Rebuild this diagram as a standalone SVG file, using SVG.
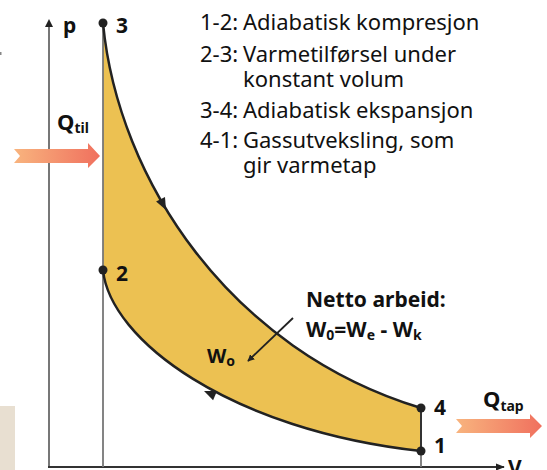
<svg xmlns="http://www.w3.org/2000/svg" width="547" height="470" viewBox="0 0 547 470">
<defs>
<linearGradient id="qgrad" x1="0" y1="0" x2="1" y2="0">
<stop offset="0" stop-color="#f8b47e"/>
<stop offset="1" stop-color="#f0705e"/>
</linearGradient>
<marker id="ah" viewBox="0 0 10 10" refX="9" refY="5" markerWidth="7" markerHeight="7" orient="auto" markerUnits="userSpaceOnUse">
<path d="M0,0 L10,5 L0,10 z" fill="#222"/>
</marker>
<marker id="axh" viewBox="0 0 10 10" refX="9" refY="5" markerWidth="9" markerHeight="9" orient="auto" markerUnits="userSpaceOnUse">
<path d="M0,1 L10,5 L0,9 z" fill="#222"/>
</marker>
</defs>
<style>
text{font-family:"Noto Sans","Open Sans","Liberation Sans",sans-serif;fill:#111}
.leg{font-size:22px}
.b{font-weight:bold}
.curve{fill:none;stroke:#222;stroke-width:2.5}
.pt{fill:#222}
.lbl{font-size:21px;font-weight:bold}
</style>
<rect x="0" y="406" width="15" height="64" fill="#e8dfd1"/>
<rect x="0" y="52" width="1.5" height="3" fill="#888"/>
<g id="area">
<path d="M103,23 C118,180 230,350 421,408 L421,451 C230,430 110,340 103,270 Z" fill="#ecc152"/>
</g>
<g id="axes">
<line x1="49" y1="467" x2="49" y2="26" stroke="#777" stroke-width="2"/>
<path d="M45,27 L49,19 L53,27 Z" fill="#222"/>
<line x1="48" y1="467" x2="504" y2="467" stroke="#333" stroke-width="1.8" marker-end="url(#axh)"/>
<line x1="103" y1="23" x2="103" y2="467" stroke="#777" stroke-width="1.8"/>
<line x1="421" y1="451" x2="421" y2="467" stroke="#777" stroke-width="1.8"/>
<text x="63" y="33" class="lbl">p</text>
<text x="508" y="475" class="lbl">V</text>
</g>
<g id="connectors">
<path id="c34" class="curve" d="M103,23 C118,180 230,350 421,408"/>
<path id="c12" class="curve" d="M421,451 C230,430 110,340 103,270"/>
<line id="c41" x1="421" y1="408" x2="421" y2="451" stroke="#333" stroke-width="2"/>
<polygon points="0,0 -12,-5 -12,5" fill="#222" transform="translate(166,210) rotate(63)"/>
<polygon points="0,0 -12,-5 -12,5" fill="#222" transform="translate(204,391) rotate(203)"/>
<line x1="293" y1="318" x2="248" y2="361" stroke="#222" stroke-width="1.8" marker-end="url(#ah)"/>
</g>
<g id="p3"><circle class="pt" cx="103" cy="23" r="4.5"/><text x="116" y="33" class="lbl">3</text></g>
<g id="p2"><circle class="pt" cx="103" cy="270" r="4.5"/><text x="116" y="281" class="lbl">2</text></g>
<g id="p4"><circle class="pt" cx="421" cy="408" r="4.5"/><text x="434" y="415" class="lbl">4</text></g>
<g id="p1"><circle class="pt" cx="421" cy="451" r="4.5"/><text x="434" y="453" class="lbl">1</text></g>
<g id="qtil">
<path d="M14,149 L88,149 L88,143 L100,156 L88,168 L88,163 L14,163 L20,156 Z" fill="url(#qgrad)"/>
<text x="57" y="130" class="b" font-size="22">Q<tspan font-size="14" dy="3">til</tspan></text>
</g>
<g id="qtap">
<path d="M456,419 L530,419 L530,414 L542,426 L530,438 L530,433 L456,433 L462,426 Z" fill="url(#qgrad)"/>
<text x="483" y="407" class="b" font-size="22">Q<tspan font-size="14" dy="4">tap</tspan></text>
</g>
<g id="legend" class="leg">
<text y="30"><tspan x="200">1-2:</tspan><tspan x="243">Adiabatisk kompresjon</tspan></text>
<text y="62"><tspan x="200">2-3:</tspan><tspan x="243">Varmetilførsel under</tspan></text>
<text x="243" y="87">konstant volum</text>
<text y="118"><tspan x="200">3-4:</tspan><tspan x="243">Adiabatisk ekspansjon</tspan></text>
<text y="148"><tspan x="200">4-1:</tspan><tspan x="243">Gassutveksling, som</tspan></text>
<text x="243" y="173">gir varmetap</text>
</g>
<g id="netto">
<text x="306" y="307" class="b" font-size="21">Netto arbeid:</text>
<text x="306" y="337" class="b" font-size="21">W<tspan font-size="14" dy="3">0</tspan><tspan dy="-3">=W</tspan><tspan font-size="14" dy="3">e</tspan><tspan dy="-3"> - W</tspan><tspan font-size="14" dy="3">k</tspan></text>
<text x="207" y="363" class="b" font-size="20">W<tspan font-size="14" dy="3">o</tspan></text>
</g>
</svg>
